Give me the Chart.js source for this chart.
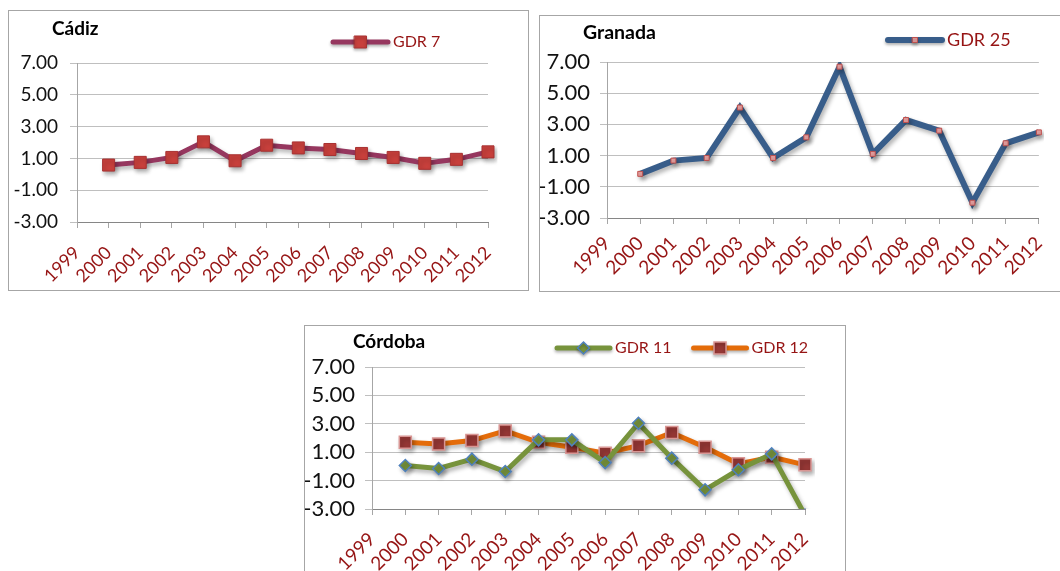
<!DOCTYPE html>
<html>
<head>
<meta charset="utf-8">
<script src="https://cdn.jsdelivr.net/npm/chart.js@4.4.0/dist/chart.umd.min.js"></script>
<style>
  html, body { margin: 0; padding: 0; background: #fff; }
  body { width: 1060px; height: 571px; position: relative; overflow: hidden; }
  .panel { position: absolute; border: 1px solid #a6a6a6; background: #fff; }
  .panel canvas { position: absolute; left: 0; top: 0; }
</style>
</head>
<body>
<div class="panel" style="left:8px; top:10px; width:519px; height:279px;">
  <canvas id="cadiz" width="519" height="279"></canvas>
</div>
<div class="panel" style="left:539px; top:15px; width:523px; height:275px;">
  <canvas id="granada" width="523" height="275"></canvas>
</div>
<div class="panel" style="left:304px; top:325px; width:540px; height:258px;">
  <canvas id="cordoba" width="540" height="258"></canvas>
</div>
<script>
// datos
const years = ["1999", "2000", "2001", "2002", "2003", "2004", "2005", "2006", "2007", "2008", "2009", "2010", "2011", "2012"]
const cadizGdr7 = [null, 0.58, 0.75, 1.06, 2.04, 0.85, 1.83, 1.66, 1.56, 1.31, 1.06, 0.69, 0.94, 1.41]
const granadaGdr25 = [null, -0.17, 0.68, 0.85, 4.08, 0.85, 2.17, 6.70, 1.11, 3.28, 2.60, -2.02, 1.79, 2.49]
const cordobaGdr11 = [null, 0.06, -0.15, 0.51, -0.36, 1.87, 1.87, 0.27, 3.04, 0.58, -1.65, -0.24, 0.88, -3.43]
const cordobaGdr12 = [null, 1.70, 1.58, 1.82, 2.50, 1.70, 1.35, 0.93, 1.46, 2.38, 1.35, 0.18, 0.65, 0.11]
const yTicks = [-3, -1, 1, 3, 5, 7]

const FONT = "Lato, 'Open Sans', sans-serif"
const DARK_RED = "#961414"

// sombra de las series + título y leyenda estilo Excel
const panelDecor = {
  id: "panelDecor",
  beforeDatasetsDraw(chart) {
    const c = chart.ctx
    c.save()
    c.shadowColor = "rgba(0,0,0,0.3)"
    c.shadowBlur = 4
    c.shadowOffsetX = 2
    c.shadowOffsetY = 3
  },
  afterDatasetsDraw(chart) {
    chart.ctx.restore()
  },
  afterDraw(chart, args, opts) {
    const c = chart.ctx
    c.save()
    c.fillStyle = "#000"
    c.font = "bold " + opts.titleSize + "px " + FONT
    c.textBaseline = "middle"
    c.textAlign = "left"
    c.fillText(opts.title, opts.titleX, opts.titleY)

    let x = opts.x
    c.font = opts.size + "px " + FONT
    chart.data.datasets.forEach(ds => {
      c.save()
      c.shadowColor = "rgba(0,0,0,0.3)"
      c.shadowBlur = 3
      c.shadowOffsetY = 2
      c.strokeStyle = ds.borderColor
      c.lineWidth = ds.borderWidth
      c.lineCap = "round"
      c.beginPath()
      c.moveTo(x, opts.y)
      c.lineTo(x + opts.lineLen, opts.y)
      c.stroke()
      c.fillStyle = ds.pointBackgroundColor
      c.strokeStyle = ds.pointBorderColor
      c.lineWidth = ds.pointBorderWidth
      const pt = { pointStyle: ds.pointStyle, radius: ds.pointRadius, rotation: 0, borderWidth: ds.pointBorderWidth }
      if (Chart.helpers && Chart.helpers.drawPoint) {
        Chart.helpers.drawPoint(c, pt, x + opts.lineLen / 2, opts.y)
      } else {
        const s = ds.pointRadius * Math.SQRT1_2
        c.fillRect(x + opts.lineLen / 2 - s, opts.y - s, 2 * s, 2 * s)
      }
      c.restore()
      c.fillStyle = DARK_RED
      c.textBaseline = "middle"
      const tx = x + opts.lineLen + opts.textGap
      c.fillText(ds.label, tx, opts.y)
      x = tx + c.measureText(ds.label).width + opts.itemGap
    })
    c.restore()
  }
}

function buildChart(id, datasets, cfg) {
  const ctx = document.getElementById(id)
  return new Chart(ctx, {
    type: "line",
    data: { labels: years, datasets: datasets },
    plugins: [panelDecor],
    options: {
      responsive: false,
      animation: false,
      events: [],
      layout: { padding: { left: 0, top: cfg.top, right: cfg.right, bottom: 0 } },
      scales: {
        x: {
          offset: false,
          grid: { drawOnChartArea: false, drawTicks: true, tickLength: 6, color: "#a6a6a6" },
          border: { display: true, color: "#868686", width: 1 },
          ticks: {
            autoSkip: false,
            minRotation: 45,
            maxRotation: 45,
            padding: cfg.xPad,
            color: DARK_RED,
            font: { family: FONT, size: cfg.xSize }
          },
          afterFit: s => { s.height = cfg.xHeight }
        },
        y: {
          min: -3,
          max: 7,
          afterBuildTicks: s => { s.ticks = yTicks.map(v => ({ value: v })) },
          grid: { color: "#bfbfbf", tickLength: 7, lineWidth: 1 },
          border: { display: true, color: "#a6a6a6", width: 1 },
          ticks: {
            autoSkip: false,
            padding: cfg.yPad,
            color: "#111",
            font: { family: FONT, size: cfg.ySize },
            callback: v => Number(v).toFixed(2)
          },
          afterFit: s => { s.width = cfg.yWidth }
        }
      },
      plugins: {
        legend: { display: false },
        title: { display: false },
        tooltip: { enabled: false },
        panelDecor: cfg.decor
      }
    }
  })
}

buildChart("cadiz", [
  {
    label: "GDR 7",
    data: cadizGdr7,
    borderColor: "#96375F",
    borderWidth: 5,
    pointStyle: "rect",
    pointRadius: 8.5,
    pointBackgroundColor: "#C8403C",
    pointBorderColor: "#A83232",
    pointBorderWidth: 1,
    tension: 0
  }
], {
  top: 52, right: 40, xHeight: 68, yWidth: 68, xPad: 14, yPad: 12, xSize: 18, ySize: 19,
  decor: { title: "Cádiz", titleSize: 19, titleX: 43, titleY: 18, x: 324, y: 31, lineLen: 55, textGap: 5, itemGap: 22, size: 16 }
})

buildChart("granada", [
  {
    label: "GDR 25",
    data: granadaGdr25,
    borderColor: "#385D8A",
    borderWidth: 6,
    pointStyle: "rect",
    pointRadius: 3.5,
    pointBackgroundColor: "#E6A0A0",
    pointBorderColor: "#C0504D",
    pointBorderWidth: 1,
    tension: 0
  }
], {
  top: 46, right: 21, xHeight: 73, yWidth: 67, xPad: 8, yPad: 10, xSize: 19, ySize: 22,
  decor: { title: "Granada", titleSize: 19.5, titleX: 43, titleY: 17, x: 348, y: 24, lineLen: 54, textGap: 5, itemGap: 22, size: 18 }
})

buildChart("cordoba", [
  {
    label: "GDR 11",
    data: cordobaGdr11,
    borderColor: "#77933C",
    borderWidth: 5,
    pointStyle: "rectRot",
    pointRadius: 6,
    pointBackgroundColor: "#77933C",
    pointBorderColor: "#4F81BD",
    pointBorderWidth: 1.5,
    tension: 0
  },
  {
    label: "GDR 12",
    data: cordobaGdr12,
    borderColor: "#E46C0A",
    borderWidth: 5,
    pointStyle: "rect",
    pointRadius: 8.5,
    pointBackgroundColor: "#953735",
    pointBorderColor: "#D99694",
    pointBorderWidth: 1.5,
    tension: 0
  }
], {
  top: 41, right: 40, xHeight: 75, yWidth: 67, xPad: 13, yPad: 10, xSize: 19, ySize: 22,
  decor: { title: "Córdoba", titleSize: 19, titleX: 48, titleY: 16, x: 252, y: 22, lineLen: 53, textGap: 5, itemGap: 22, size: 16 }
})
</script>
</body>
</html>
